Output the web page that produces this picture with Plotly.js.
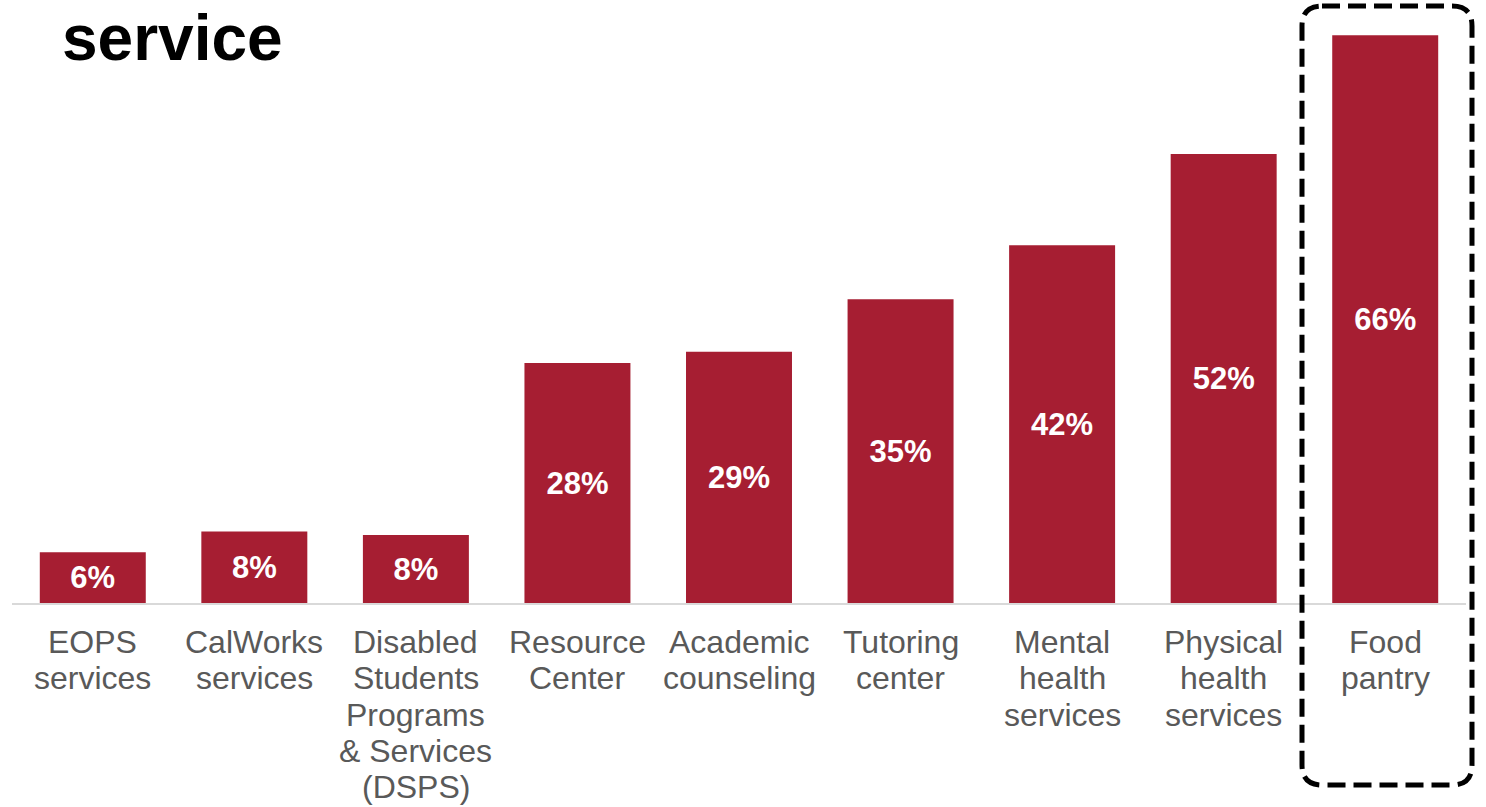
<!DOCTYPE html>
<html>
<head>
<meta charset="utf-8">
<script src="https://cdn.plot.ly/plotly-3.0.1.min.js"></script>
<style>html,body{margin:0;padding:0;background:#fff;}#chart{width:1486px;height:807px;}</style>
</head>
<body>
<div id="chart"></div>
<script>
var categories = ["EOPS services", "CalWorks services", "Disabled Students Programs & Services (DSPS)", "Resource Center", "Academic counseling", "Tutoring center", "Mental health services", "Physical health services", "Food pantry"];
var tickLabels = ["EOPS<br>services", "CalWorks<br>services", "Disabled<br>Students<br>Programs<br>&amp; Services<br>(DSPS)", "Resource<br>Center", "Academic<br>counseling", "Tutoring<br>center", "Mental<br>health<br>services", "Physical<br>health<br>services", "Food<br>pantry"];
var values = [5.9, 8.3, 7.9, 27.9, 29.2, 35.3, 41.6, 52.2, 66];
var valueLabels = ["6%", "8%", "8%", "28%", "29%", "35%", "42%", "52%", "66%"];
var titleText = "service";

var W = 1486, H = 807;
var mL = 12, mR = 20, mT = 0, mB = 204;
var pw = W - mL - mR, ph = H - mT - mB;
function px(x){ return (x - mL) / pw; }
function py(y){ return (H - mB - y) / ph; }

// rounded dashed highlight box (pixel geometry converted to paper coords)
var bx0 = 1302, bx1 = 1472, by0 = 6, by1 = 785, r = 20;
var path = "M" + px(bx0 + r) + "," + py(by0) +
  " L" + px(bx1 - r) + "," + py(by0) +
  " Q" + px(bx1) + "," + py(by0) + " " + px(bx1) + "," + py(by0 + r) +
  " L" + px(bx1) + "," + py(by1 - r) +
  " Q" + px(bx1) + "," + py(by1) + " " + px(bx1 - r) + "," + py(by1) +
  " L" + px(bx0 + r) + "," + py(by1) +
  " Q" + px(bx0) + "," + py(by1) + " " + px(bx0) + "," + py(by1 - r) +
  " L" + px(bx0) + "," + py(by0 + r) +
  " Q" + px(bx0) + "," + py(by0) + " " + px(bx0 + r) + "," + py(by0) + " Z";

var font = "Liberation Sans, Arial, sans-serif";

// category labels, one annotation per line for tighter line spacing
var annotations = [];
var firstLineOffset = 39, lineStep = 36.3;
for (var i = 0; i < categories.length; i++) {
  var lines = tickLabels[i].split("<br>");
  for (var j = 0; j < lines.length; j++) {
    annotations.push({
      x: categories[i], xref: "x",
      y: 0, yref: "y",
      yanchor: "middle", xanchor: "center",
      yshift: -(firstLineOffset + j * lineStep),
      text: lines[j],
      showarrow: false,
      font: {family: font, size: 32, color: "#595959"}
    });
  }
}

var trace = {
  type: "bar",
  x: categories,
  y: values,
  text: valueLabels,
  textposition: "inside",
  insidetextanchor: "middle",
  textangle: 0,
  textfont: {family: font, size: 31, color: "#ffffff", weight: "bold"},
  marker: {color: "#A61E32"},
  hoverinfo: "none"
};

var layout = {
  width: W, height: H,
  margin: {l: mL, r: mR, t: mT, b: mB, pad: 0},
  paper_bgcolor: "#ffffff",
  plot_bgcolor: "#ffffff",
  bargap: 0.344,
  showlegend: false,
  title: {
    text: "<b>" + titleText + "</b>",
    x: 62 / W, xref: "container", xanchor: "left",
    y: 1 - 38 / H, yref: "container", yanchor: "middle",
    font: {family: font, size: 64, color: "#000000"}
  },
  xaxis: {
    type: "category",
    showticklabels: false,
    showline: true, linecolor: "#d9d9d9", linewidth: 2,
    showgrid: false, zeroline: false, ticks: "",
    fixedrange: true
  },
  yaxis: {
    range: [0, 70.1],
    showgrid: false, zeroline: false, showline: false,
    showticklabels: false, ticks: "",
    fixedrange: true
  },
  annotations: annotations,
  shapes: [{
    type: "path", xref: "paper", yref: "paper",
    path: path,
    line: {color: "#000000", width: 5, dash: "18px,8px"},
    fillcolor: "rgba(0,0,0,0)",
    layer: "above"
  }]
};

Plotly.newPlot("chart", [trace], layout, {displayModeBar: false, staticPlot: true});
</script>
</body>
</html>
